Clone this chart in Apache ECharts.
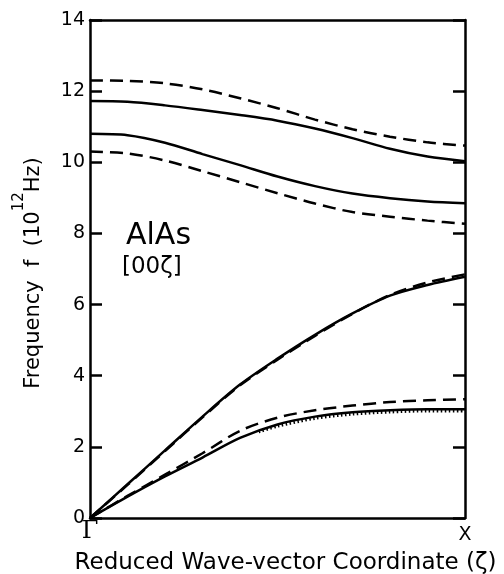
<!DOCTYPE html>
<html>
<head>
<meta charset="utf-8">
<script src="https://cdn.jsdelivr.net/npm/echarts@6/dist/echarts.min.js"></script>
<style>
  html, body { margin: 0; padding: 0; background: #fff; }
  #chart { width: 504px; height: 574px; }
</style>
</head>
<body>
<div id="chart"></div>
<script>
// reduced wave-vector coordinate, Gamma -> X
const zeta = [0, 0.1, 0.2, 0.3, 0.4, 0.5, 0.6, 0.7, 0.8, 0.9, 1.0]

// optic branches (10^12 Hz)
const loDashed = [12.3, 12.29, 12.22, 12.05, 11.8, 11.52, 11.2, 10.93, 10.72, 10.56, 10.47]
const loSolid = [11.72, 11.7, 11.6, 11.47, 11.33, 11.17, 10.95, 10.68, 10.38, 10.16, 10.03]
const toSolid = [10.8, 10.76, 10.55, 10.23, 9.92, 9.6, 9.33, 9.12, 8.99, 8.9, 8.85]
const toDashed = [10.3, 10.25, 10.05, 9.75, 9.44, 9.13, 8.84, 8.6, 8.47, 8.36, 8.27]

// acoustic branches
const laSolid = [0, 0.95, 1.9, 2.85, 3.75, 4.48, 5.15, 5.75, 6.25, 6.55, 6.78]
const laDashed = [0, 0.93, 1.88, 2.83, 3.73, 4.45, 5.12, 5.74, 6.27, 6.62, 6.85]
const taSolid = [0, 0.6, 1.17, 1.7, 2.25, 2.63, 2.85, 2.97, 3.03, 3.06, 3.06]
const taDashed = [0, 0.62, 1.22, 1.82, 2.45, 2.82, 3.03, 3.16, 3.26, 3.31, 3.34]
const taDotZeta = [0.45, 0.5, 0.6, 0.7, 0.8, 0.9, 1.0]
const taDotted = [2.42, 2.58, 2.8, 2.92, 2.98, 3.01, 3.01]

const yTicks = [0, 2, 4, 6, 8, 10, 12, 14]
const xLabels = { 0: '{g|Γ}', 1: '{x|X}' }

const font = 'DejaVu Sans'

function pairs(xs, ys) {
  return xs.map((x, i) => [x, ys[i]])
}

function line(data, type) {
  return {
    type: 'line',
    data: data,
    smooth: 0.3,
    symbol: 'none',
    silent: true,
    lineStyle: {
      color: '#000',
      width: type === 'dotted' ? 3 : 2.5,
      type: type === 'dashed' ? [13, 7] : (type === 'dotted' ? [1.5, 2.5] : 'solid')
    }
  }
}

const frame = { show: true, onZero: false, lineStyle: { color: '#000', width: 2.5 } }
const ticks = { inside: true, length: 12, lineStyle: { color: '#000', width: 2.5 } }

const chart = echarts.init(document.getElementById('chart'))
chart.setOption({
  backgroundColor: '#fff',
  animation: false,
  grid: { left: 90, right: 39, top: 20, bottom: 56, outerBoundsMode: 'none', containLabel: false },
  xAxis: [{
    type: 'value',
    min: 0,
    max: 1,
    interval: 1,
    name: 'Reduced Wave-vector Coordinate (ζ)',
    nameLocation: 'middle',
    nameGap: 34,
    nameTextStyle: { fontFamily: font, fontSize: 23, color: '#000', padding: [0, 0, 0, 16] },
    axisLine: frame,
    axisTick: { show: false },
    splitLine: { show: false },
    axisLabel: {
      margin: 2,
      formatter: v => xLabels[v] || '',
      rich: {
        g: { fontFamily: 'DejaVu Serif', fontSize: 24, color: '#000' },
        x: { fontFamily: font, fontSize: 19, color: '#000', padding: [6, 0, 0, 0] }
      }
    }
  }, {
    type: 'value',
    position: 'top',
    min: 0,
    max: 1,
    axisLine: frame,
    axisTick: { show: false },
    axisLabel: { show: false },
    splitLine: { show: false }
  }],
  yAxis: [{
    type: 'value',
    min: 0,
    max: 14,
    interval: 2,
    name: '{t|Frequency  f  (10}{s|12}{t|Hz)}',
    nameLocation: 'middle',
    nameRotate: 90,
    nameGap: 46,
    nameTextStyle: {
      padding: [0, 8, 0, 0],
      rich: {
        t: { fontFamily: font, fontSize: 21, color: '#000', lineHeight: 32, verticalAlign: 'bottom' },
        s: { fontFamily: font, fontSize: 15, color: '#000', lineHeight: 32, verticalAlign: 'top' }
      }
    },
    axisLine: frame,
    axisTick: ticks,
    splitLine: { show: false },
    axisLabel: {
      fontFamily: font,
      fontSize: 19,
      color: '#000',
      margin: 5,
      formatter: v => yTicks.includes(v) ? String(v) : ''
    }
  }, {
    type: 'value',
    position: 'right',
    min: 0,
    max: 14,
    interval: 2,
    axisLine: frame,
    axisTick: ticks,
    axisLabel: { show: false },
    splitLine: { show: false }
  }],
  graphic: [{
    type: 'text',
    left: 126,
    top: 221,
    style: { text: 'AlAs', fontFamily: font, fontSize: 30, fill: '#000' }
  }, {
    type: 'text',
    left: 122,
    top: 256,
    style: { text: '[00ζ]', fontFamily: font, fontSize: 23, fill: '#000' }
  }],
  series: [
    line(pairs(zeta, loDashed), 'dashed'),
    line(pairs(zeta, loSolid), 'solid'),
    line(pairs(zeta, toSolid), 'solid'),
    line(pairs(zeta, toDashed), 'dashed'),
    line(pairs(zeta, laSolid), 'solid'),
    line(pairs(zeta, laDashed), 'dashed'),
    line(pairs(zeta, taSolid), 'solid'),
    line(pairs(zeta, taDashed), 'dashed'),
    line(pairs(taDotZeta, taDotted), 'dotted')
  ]
})
</script>
</body>
</html>
